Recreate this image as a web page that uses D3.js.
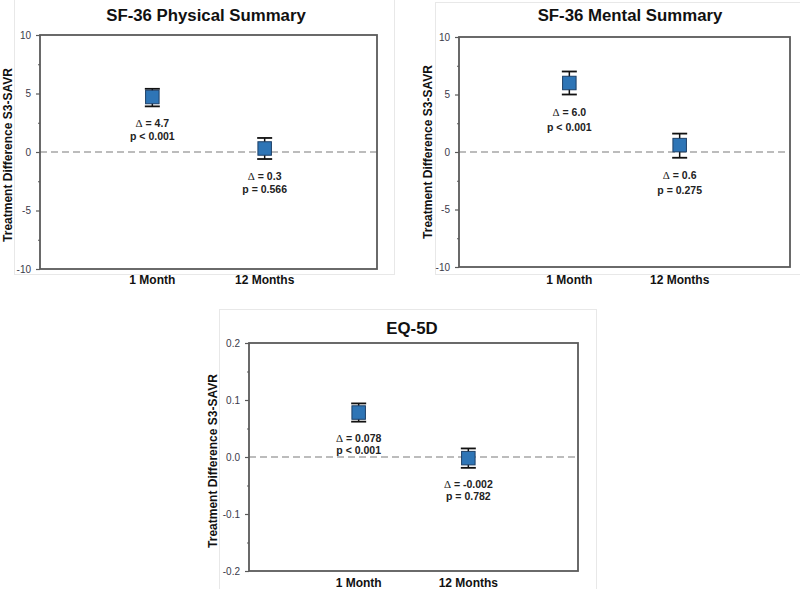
<!DOCTYPE html>
<html>
<head>
<meta charset="utf-8">
<script src="https://cdn.jsdelivr.net/npm/d3@7/dist/d3.min.js"></script>
<style>
  html, body { margin: 0; padding: 0; background: #fff; }
  svg { display: block; font-family: Arial, "Liberation Sans", sans-serif; }
</style>
</head>
<body>
<svg id="chart" width="800" height="589"></svg>
<script>
// ---------- DATA ----------
const categories = ["1 Month", "12 Months"];

const physicalMean = [4.7, 0.3];
const physicalLow  = [3.9, -0.6];
const physicalHigh = [5.4, 1.2];
const physicalDelta = ["4.7", "0.3"];
const physicalP = ["p < 0.001", "p = 0.566"];

const mentalMean = [6.0, 0.6];
const mentalLow  = [5.0, -0.5];
const mentalHigh = [7.0, 1.6];
const mentalDelta = ["6.0", "0.6"];
const mentalP = ["p < 0.001", "p = 0.275"];

const eqMean = [0.078, -0.002];
const eqLow  = [0.062, -0.019];
const eqHigh = [0.094, 0.015];
const eqDelta = ["0.078", "-0.002"];
const eqP = ["p < 0.001", "p = 0.782"];

const sfTicks = [-10, -5, 0, 5, 10];
const sfMinorTicks = [-7.5, -2.5, 2.5, 7.5];
const sfTickLabels = ["-10", "-5", "0", "5", "10"];
const eqTicks = [-0.2, -0.1, 0.0, 0.1, 0.2];
const eqMinorTicks = [-0.15, -0.05, 0.05, 0.15];
const eqTickLabels = ["-0.2", "-0.1", "0.0", "0.1", "0.2"];

const titles = ["SF-36 Physical Summary", "SF-36 Mental Summary", "EQ-5D"];
const yTitle = "Treatment Difference S3-SAVR";

// ---------- LAYOUT ----------
const panels = [
  { title: titles[0], mean: physicalMean, lo: physicalLow, hi: physicalHigh, delta: physicalDelta, p: physicalP,
    ticks: sfTicks, minor: sfMinorTicks, tickLabels: sfTickLabels, domain: [-10, 10],
    box: [14, -1, 394, 274], plot: [40, 35, 377, 269], titleX: 206, titleY: 15, yTitleX: 8, yTitleY: 155, xLabelY: 280,
    annOff: 16.5, annGap: 13 },
  { title: titles[1], mean: mentalMean, lo: mentalLow, hi: mentalHigh, delta: mentalDelta, p: mentalP,
    ticks: sfTicks, minor: sfMinorTicks, tickLabels: sfTickLabels, domain: [-10, 10],
    box: [435, 2, 801, 274], plot: [459, 37, 790, 267], titleX: 630, titleY: 15, yTitleX: 428, yTitleY: 152, xLabelY: 280,
    annOff: 17.5, annGap: 15 },
  { title: titles[2], mean: eqMean, lo: eqLow, hi: eqHigh, delta: eqDelta, p: eqP,
    ticks: eqTicks, minor: eqMinorTicks, tickLabels: eqTickLabels, domain: [-0.2, 0.2],
    box: [219, 309, 596, 592], plot: [249, 343, 578, 571], titleX: 412, titleY: 328, yTitleX: 213, yTitleY: 461, xLabelY: 583,
    annOff: 16.5, annGap: 12 }
];

const svg = d3.select("#chart");

panels.forEach(P => {
  const g = svg.append("g");
  const [bx0, by0, bx1, by1] = P.box;
  g.append("rect").attr("x", bx0 + 0.5).attr("y", by0 + 0.5)
    .attr("width", bx1 - bx0).attr("height", by1 - by0)
    .attr("fill", "#fff").attr("stroke", "#e8e8e8").attr("stroke-width", 1);

  const [x0, y0, x1, y1] = P.plot;
  const x = d3.scalePoint().domain(categories).range([x0, x1]).padding(1);
  const y = d3.scaleLinear().domain(P.domain).range([y1, y0]);

  // zero dashed line
  g.append("line").attr("x1", x0).attr("x2", x1).attr("y1", y(0)).attr("y2", y(0))
    .attr("stroke", "#a6a6a6").attr("stroke-width", 1.5).attr("stroke-dasharray", "7,4");

  // frame
  g.append("rect").attr("x", x0).attr("y", y0).attr("width", x1 - x0).attr("height", y1 - y0)
    .attr("fill", "none").attr("stroke", "#5a5a5a").attr("stroke-width", 1.8);

  // y axis
  const axis = d3.axisLeft(y).tickValues(P.ticks).tickSize(4).tickPadding(5)
    .tickFormat((d, i) => P.tickLabels[i]);
  const ag = g.append("g").attr("transform", `translate(${x0},0)`).call(axis);
  ag.select(".domain").remove();
  ag.selectAll(".tick line").attr("stroke", "#5a5a5a").attr("stroke-width", 1.2);
  ag.selectAll(".tick text").attr("fill", "#3a3a4a").attr("font-size", 10).attr("font-family", "Arial, 'Liberation Sans', sans-serif");
  const minorAxis = d3.axisLeft(y).tickValues(P.minor).tickSize(2).tickFormat("");
  const mg = g.append("g").attr("transform", `translate(${x0},0)`).call(minorAxis);
  mg.select(".domain").remove();
  mg.selectAll(".tick line").attr("stroke", "#5a5a5a").attr("stroke-width", 1);

  // title
  g.append("text").attr("x", P.titleX).attr("y", P.titleY).attr("text-anchor", "middle")
    .attr("dominant-baseline", "central").attr("font-size", 16.8).attr("font-weight", "bold")
    .attr("fill", "#111").text(P.title);

  // y title
  g.append("text").attr("transform", `translate(${P.yTitleX},${P.yTitleY}) rotate(-90)`)
    .attr("text-anchor", "middle").attr("dominant-baseline", "central")
    .attr("font-size", 12).attr("font-weight", "bold").attr("fill", "#111").text(yTitle);

  // x labels
  g.selectAll(".xl").data(categories).join("text")
    .attr("x", d => x(d)).attr("y", P.xLabelY).attr("text-anchor", "middle")
    .attr("dominant-baseline", "central").attr("font-size", 12).attr("font-weight", "bold")
    .attr("fill", "#111").text(d => d);

  // error bars + markers
  categories.forEach((c, i) => {
    const cx = x(c);
    const capW = 7.5;
    g.append("line").attr("x1", cx).attr("x2", cx).attr("y1", y(P.hi[i])).attr("y2", y(P.lo[i]))
      .attr("stroke", "#111").attr("stroke-width", 1.5);
    [P.hi[i], P.lo[i]].forEach(v => {
      g.append("line").attr("x1", cx - capW).attr("x2", cx + capW).attr("y1", y(v)).attr("y2", y(v))
        .attr("stroke", "#111").attr("stroke-width", 1.8);
    });
    const s = 13.5;
    g.append("rect").attr("x", cx - s / 2).attr("y", y(P.mean[i]) - s / 2)
      .attr("width", s).attr("height", s)
      .attr("fill", "#2E75B6").attr("stroke", "#1d3f66").attr("stroke-width", 1);

    const ly = y(P.lo[i]) + P.annOff;
    const t1 = g.append("text").attr("x", cx).attr("y", ly).attr("text-anchor", "middle")
      .attr("dominant-baseline", "central").attr("font-size", 10.5).attr("font-weight", "bold").attr("fill", "#222");
    t1.append("tspan").attr("font-family", "'Liberation Serif', 'Times New Roman', serif")
      .attr("font-weight", "normal").attr("font-size", 11).text("Δ");
    t1.append("tspan").text(" = " + P.delta[i]);
    g.append("text").attr("x", cx).attr("y", ly + P.annGap).attr("text-anchor", "middle")
      .attr("dominant-baseline", "central").attr("font-size", 10.5).attr("font-weight", "bold")
      .attr("fill", "#222").text(P.p[i]);
  });
});
</script>
</body>
</html>
